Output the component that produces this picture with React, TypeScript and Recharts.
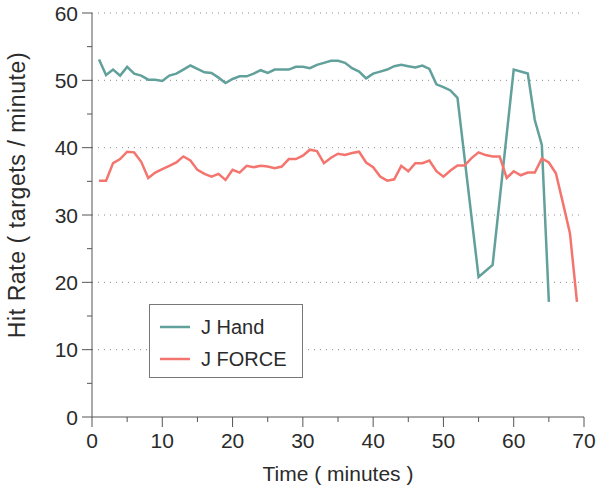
import React from 'react';
import { LineChart, Line, XAxis, YAxis, ReferenceLine, Legend } from 'recharts';

// minutes 1..69 (one sample per minute)
const minutes = [
  1, 2, 3, 4, 5, 6, 7, 8, 9, 10, 11, 12, 13, 14, 15, 16, 17, 18, 19, 20, 21, 22, 23,
  24, 25, 26, 27, 28, 29, 30, 31, 32, 33, 34, 35, 36, 37, 38, 39, 40, 41, 42, 43, 44, 45, 46,
  47, 48, 49, 50, 51, 52, 53, 54, 55, 56, 57, 58, 59, 60, 61, 62, 63, 64, 65, 66, 67, 68, 69,
];

// J Hand — gaps (null) where the trace runs straight between readable points
const handRate = [
  53.1, 50.8, 51.6, 50.7, 52.0, 51.0, 50.7, 50.1, 50.1, 49.9, 50.7, 51.0, 51.6, 52.2, 51.7,
  51.2, 51.1, 50.4, 49.6, 50.2, 50.6, 50.6, 51.0, 51.5, 51.1, 51.6, 51.6, 51.6, 52.0, 52.0,
  51.8, 52.3, 52.6, 52.9, 52.9, 52.6, 51.8, 51.3, 50.3, 51.0, 51.3, 51.6, 52.1, 52.3, 52.1,
  51.9, 52.2, 51.7, 49.4, 49.0, 48.5, 47.4, null, null, 20.8, null, 22.6, null, null, 51.6,
  null, 51.0, 44.1, 40.4, 17.1,
];

// J FORCE
const forceRate = [
  35.1, 35.1, 37.7, 38.3, 39.4, 39.3, 37.9, 35.5, 36.3, 36.8, 37.3, 37.8, 38.7, 38.1, 36.7,
  36.1, 35.7, 36.1, 35.2, 36.7, 36.3, 37.3, 37.1, 37.3, 37.2, 36.95, 37.2, 38.3, 38.3, 38.8,
  39.7, 39.5, 37.7, 38.5, 39.1, 38.9, 39.2, 39.4, 37.8, 37.1, 35.7, 35.1, 35.3, 37.3, 36.5,
  37.7, 37.7, 38.1, 36.5, 35.7, 36.6, 37.35, 37.35, 38.45, 39.3, 38.9, 38.7, 38.7, 35.5, 36.5,
  35.9, 36.3, 36.3, 38.4, 37.8, 36.2, 31.8, 27.3, 17.1,
];

const xTicks = [0, 5, 10, 15, 20, 25, 30, 35, 40, 45, 50, 55, 60, 65, 70];
const yTicks = [0, 5, 10, 15, 20, 25, 30, 35, 40, 45, 50, 55, 60];
const gridLevels = [10, 20, 30, 40, 50, 60];

const series = [
  { key: 'hand', name: 'J Hand', color: '#62a09b' },
  { key: 'force', name: 'J FORCE', color: '#f4746e' },
];

const data = minutes.map((m, i) => ({
  minute: m,
  hand: i < handRate.length ? handRate[i] : null,
  force: forceRate[i],
}));

const FONT = '"Liberation Sans", Arial, Helvetica, sans-serif';
const INK = '#2b2b2b';
const AXIS = '#555';

const XTick = (props: any) => {
  const { x, y, payload } = props;
  const major = payload.value % 10 === 0;
  return (
    <g>
      <line x1={x} x2={x} y1={y} y2={y + (major ? 10 : 5)} stroke={AXIS} strokeWidth={1} />
      {major && (
        <text x={x} y={y + 31} textAnchor="middle" fontSize={21} fill={INK} fontFamily={FONT}>
          {payload.value}
        </text>
      )}
    </g>
  );
};

const YTick = (props: any) => {
  const { x, y, payload } = props;
  const major = payload.value % 10 === 0;
  return (
    <g>
      <line x1={x} x2={x - (major ? 10 : 5)} y1={y} y2={y} stroke={AXIS} strokeWidth={1} />
      {major && (
        <text x={x - 14} y={y + 7.5} textAnchor="end" fontSize={21} fill={INK} fontFamily={FONT}>
          {payload.value}
        </text>
      )}
    </g>
  );
};

const YTitle = () => (
  <text
    transform="translate(25,195) rotate(-90)"
    textAnchor="middle"
    fontSize={23}
    letterSpacing={0.6}
    fill={INK}
    fontFamily={FONT}
  >
    Hit Rate ( targets / minute)
  </text>
);

const LegendBox = () => (
  <div
    style={{
      width: 154,
      height: 74,
      boxSizing: 'border-box',
      border: '1px solid #777',
      background: '#fff',
      fontFamily: FONT,
      fontSize: 20,
      color: INK,
      paddingTop: 6,
    }}
  >
    {series.map((s) => (
      <div key={s.key} style={{ display: 'flex', alignItems: 'center', height: 32 }}>
        <svg width={51} height={10} style={{ flex: 'none' }}>
          <line x1={10} x2={40} y1={5} y2={5} stroke={s.color} strokeWidth={2.5} />
        </svg>
        <span>{s.name}</span>
      </div>
    ))}
  </div>
);

export default function App() {
  return (
    <div style={{ position: 'absolute', left: 0, top: 0, width: 600, height: 492, background: '#fff' }}>
      <LineChart width={600} height={492} data={data} margin={{ top: 13, right: 16, left: 0, bottom: 0 }}>
        {gridLevels.map((v) => (
          <ReferenceLine key={v} y={v} stroke="#8a8a8a" strokeDasharray="1 5" strokeWidth={1} />
        ))}
        <XAxis
          dataKey="minute"
          type="number"
          domain={[0, 70]}
          ticks={xTicks}
          interval={0}
          height={75}
          tickSize={0}
          tickMargin={0}
          tickLine={false}
          axisLine={{ stroke: AXIS }}
          tick={<XTick />}
          label={{
            value: 'Time ( minutes )',
            position: 'insideBottom',
            offset: 11,
            fontSize: 21,
            fill: INK,
            fontFamily: FONT,
          }}
        />
        <YAxis
          type="number"
          domain={[0, 60]}
          ticks={yTicks}
          interval={0}
          width={92}
          tickSize={0}
          tickMargin={0}
          tickLine={false}
          axisLine={{ stroke: AXIS }}
          tick={<YTick />}
          label={{ content: <YTitle /> }}
        />
        {series.map((s) => (
          <Line
            key={s.key}
            dataKey={s.key}
            name={s.name}
            type="linear"
            stroke={s.color}
            strokeWidth={2.5}
            dot={false}
            connectNulls
            isAnimationActive={false}
          />
        ))}
        <Legend
          layout="vertical"
          align="center"
          verticalAlign="middle"
          content={<LegendBox />}
          wrapperStyle={{ left: 149, top: 304, width: 154, height: 74 }}
        />
      </LineChart>
    </div>
  );
}
